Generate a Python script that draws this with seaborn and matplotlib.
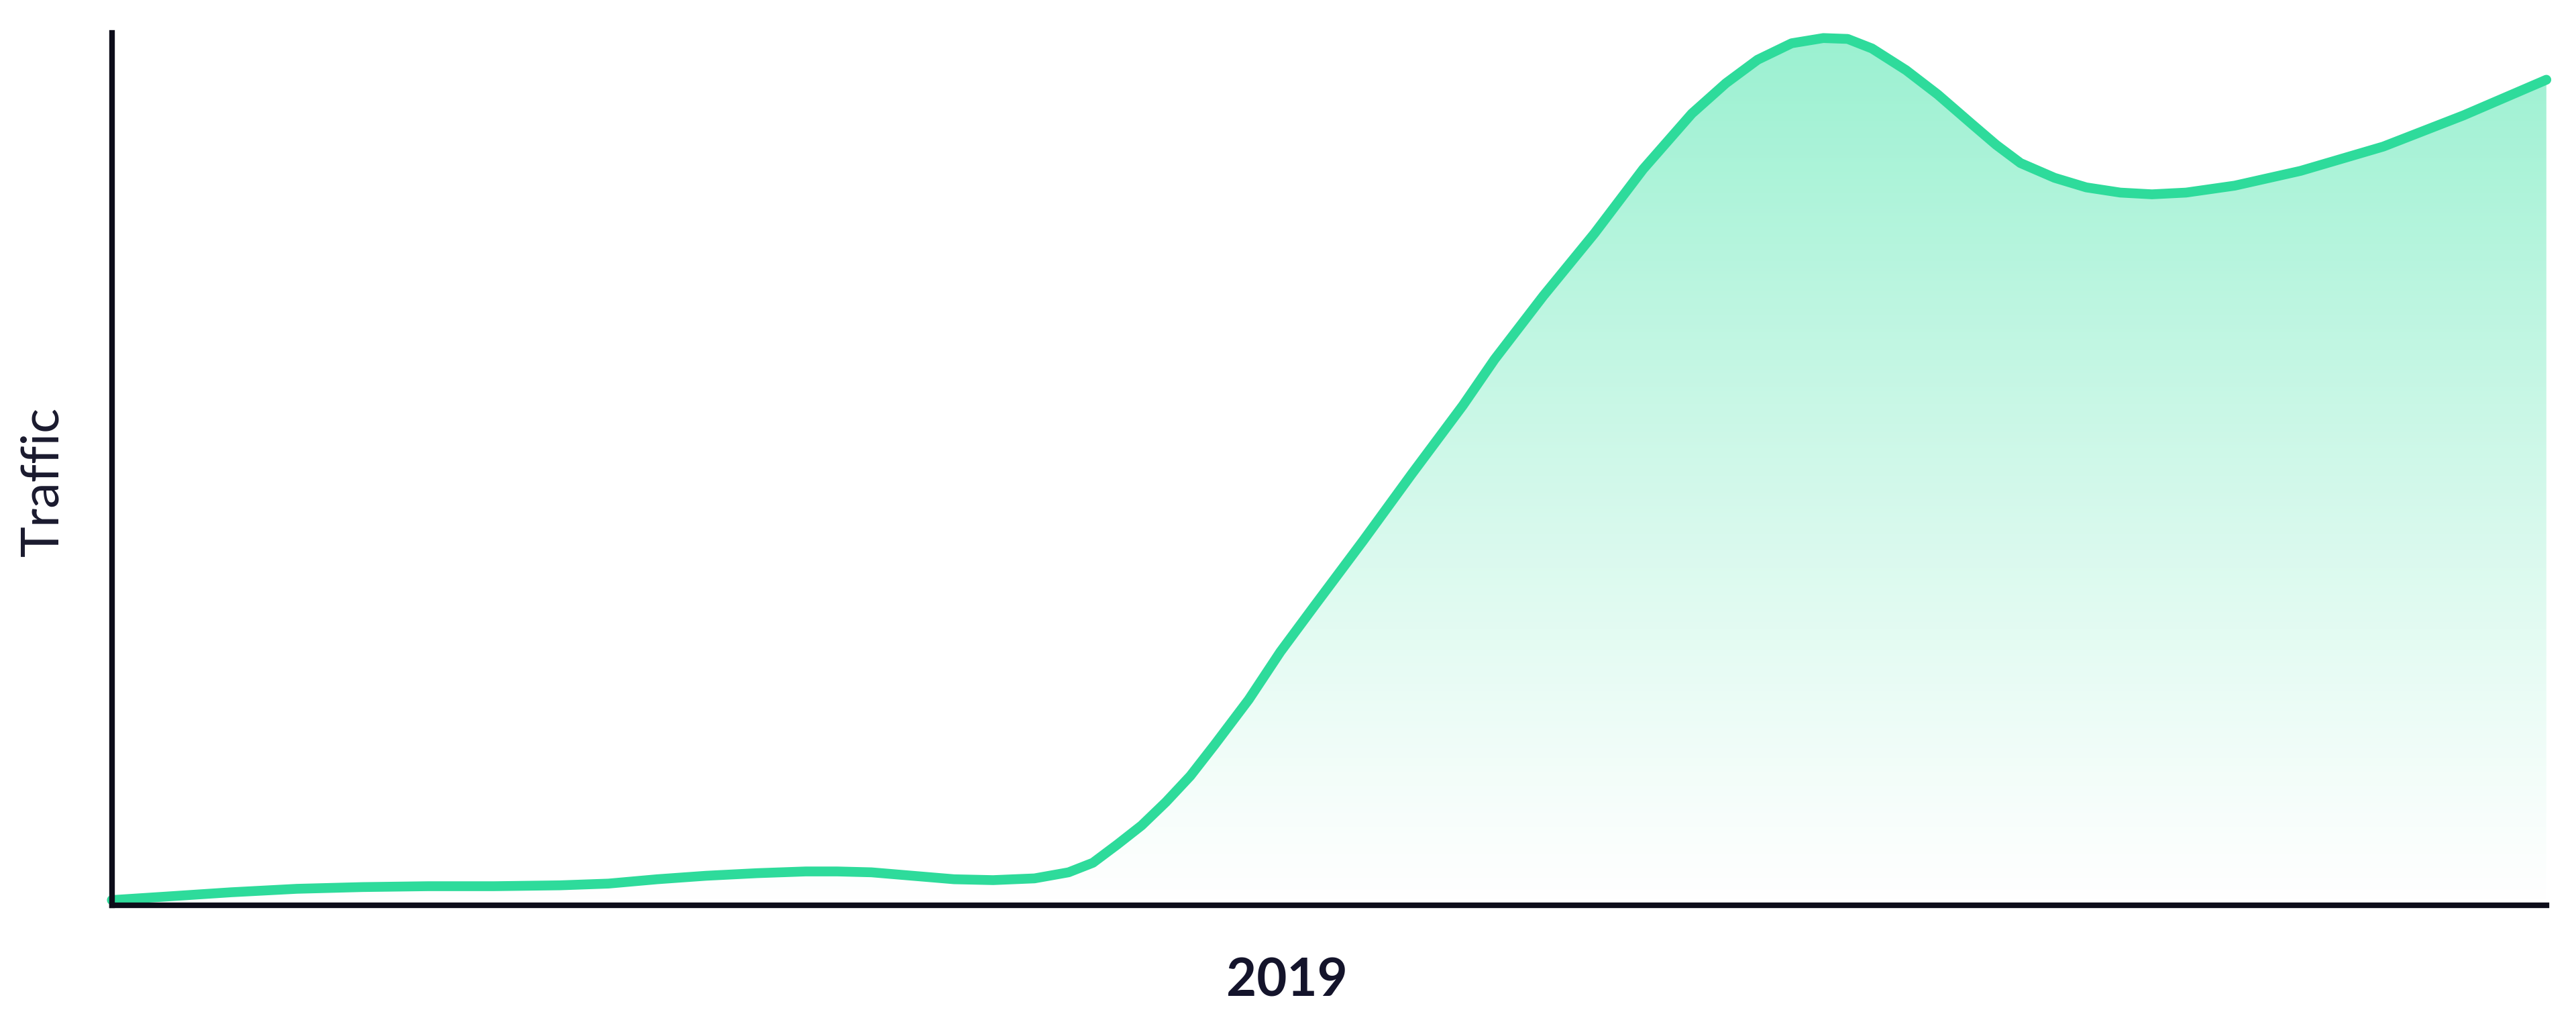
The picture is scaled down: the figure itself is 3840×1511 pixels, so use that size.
import numpy as np
import pandas as pd
import matplotlib
matplotlib.use("Agg")
import matplotlib.pyplot as plt
import seaborn as sns
from matplotlib.colors import to_rgb

# position along 2019 (0-100) and relative traffic (0-100)
position = [0.0, 2.2, 4.9, 7.6, 10.3, 13.0, 15.7, 18.4, 20.4, 22.4, 24.4, 26.5,
            28.5, 29.8, 31.2, 32.9, 34.6, 36.2, 37.9, 39.3, 40.3, 41.3, 42.3,
            43.3, 44.3, 45.3, 46.7, 48.0, 49.4, 51.4, 53.4, 55.5, 56.8, 58.8,
            60.9, 62.9, 64.9, 66.3, 67.6, 69.0, 70.3, 71.3, 72.3, 73.7, 75.0,
            76.4, 77.4, 78.4, 79.8, 81.1, 82.5, 83.8, 85.2, 87.2, 89.9, 93.3,
            96.6, 100.0]
traffic = [0.6, 1.0, 1.5, 1.9, 2.1, 2.2, 2.2, 2.3, 2.5, 3.0, 3.4, 3.7,
           3.9, 3.9, 3.8, 3.4, 3.0, 2.9, 3.1, 3.8, 4.9, 7.0, 9.2,
           11.9, 14.9, 18.5, 23.7, 29.2, 34.5, 42.0, 49.7, 57.6, 62.9, 70.2,
           77.4, 84.8, 91.2, 94.7, 97.4, 99.3, 99.9, 99.8, 98.7, 96.2, 93.4,
           90.0, 87.6, 85.5, 83.8, 82.7, 82.1, 81.9, 82.1, 82.9, 84.6, 87.4,
           91.0, 95.1]

df = pd.DataFrame({"position": position, "traffic": traffic})

line_color = "#2edb9b"
fill_color = "#8eefcb"

sns.set_style("white")
plt.rcParams["font.family"] = ["Lato", "DejaVu Sans"]

fig = plt.figure(figsize=(38.4, 15.11), dpi=100)
ax = fig.add_axes([0.0434, 0.1072, 0.9451, 0.8604])

sns.lineplot(data=df, x="position", y="traffic", ax=ax, color=line_color,
             linewidth=10.5, clip_on=False, zorder=3)
ax.lines[0].set_solid_joinstyle("round")
ax.lines[0].set_solid_capstyle("round")

ax.set_xlim(0, 100)
ax.set_ylim(0, 100.5)

# gradient fill under the curve
poly = ax.fill_between(df["position"], df["traffic"], 0, color="none")
rgb = to_rgb(fill_color)
grad = np.zeros((256, 1, 4))
grad[:, 0, :3] = rgb
grad[:, 0, 3] = np.linspace(0.0, 0.9, 256) ** 1.1
img = ax.imshow(grad, extent=[0, 100, 0, 100.5], origin="lower", aspect="auto", zorder=1)
img.set_clip_path(poly.get_paths()[0], transform=ax.transData)

for side in ["top", "right"]:
    ax.spines[side].set_visible(False)
for side in ["left", "bottom"]:
    ax.spines[side].set_color("#0d0d1a")
    ax.spines[side].set_linewidth(6)
    ax.spines[side].set_zorder(4)

ax.set_xticks([])
ax.set_yticks([])

ax.set_xlabel("2019", fontsize=56, fontweight="bold", color="#14142b")
ax.xaxis.set_label_coords(0.4826, -0.087)
ax.xaxis.label.set_va("center")

ax.set_ylabel("Traffic", fontsize=56, color="#1a1a2e")
ax.yaxis.set_label_coords(-0.028, 0.486)
ax.yaxis.label.set_va("center")

fig.savefig("out.png", dpi=100, facecolor="white")
